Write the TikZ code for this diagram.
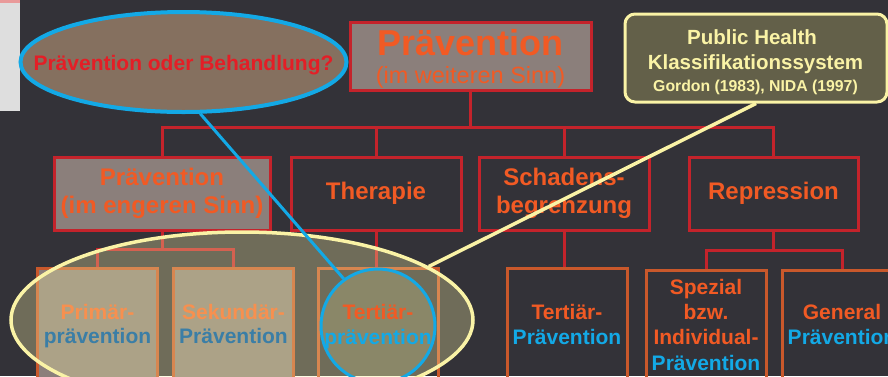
\documentclass[tikz,border=0pt]{standalone}
\usepackage{fontspec}
\setmainfont{Liberation Sans}
\usetikzlibrary{shapes.geometric}
\definecolor{bg}{HTML}{333238}
\definecolor{pred}{HTML}{C4232B}
\definecolor{porange}{HTML}{F15A24}
\definecolor{pcyan}{HTML}{13A9E6}
\definecolor{pyellow}{HTML}{FAF3A6}
\definecolor{boxgray}{HTML}{8B7F7B}
\definecolor{bordor}{HTML}{C9582B}
\definecolor{ptan}{HTML}{85705F}
\definecolor{polive}{HTML}{636049}
\definecolor{redtxt}{HTML}{E41E26}
\definecolor{lorange}{HTML}{F7904F}
\definecolor{lblue}{HTML}{3B7EA6}
\definecolor{panel}{HTML}{DEDEDE}
\definecolor{panelline}{HTML}{E99A9A}
\tikzset{
  lvtwo/.style={draw=pred, line width=3pt, minimum width=170pt, minimum height=73pt,
    inner sep=0pt, font=\fontsize{24}{28.5}\selectfont\bfseries, text=porange, align=center},
  lvthree/.style={draw=bordor, line width=3pt, minimum width=120pt, minimum height=132pt, inner sep=0pt},
  lt/.style={font=\fontsize{21}{21}\selectfont\bfseries, anchor=base, inner sep=0pt},
  conn/.style={draw=pred, line width=3pt},
}
\begin{document}
\begin{tikzpicture}[x=1pt,y=-1pt]
\useasboundingbox (0,0) rectangle (888,376);
\clip (0,0) rectangle (888,376);
\fill[bg] (0,0) rectangle (888,376);
% left panel
\fill[panel] (0,0) rectangle (20,111);
\fill[panelline] (0,0) rectangle (20,2.5);

% top box
\node[draw=pred, line width=3pt, fill=boxgray, minimum width=241pt, minimum height=68pt, inner sep=0pt] (top) at (470.5,56) {};
\node[font=\fontsize{36}{36}\selectfont\bfseries, text=porange, anchor=base, inner sep=0pt] (toptitle) at (470.5,55) {Prävention};
\node[font=\fontsize{23.5}{23.5}\selectfont, text=porange, anchor=base, inner sep=0pt] (topsub) at (470.5,83) {(im weiteren Sinn)};

% level 2
\node[lvtwo, fill=boxgray, minimum width=216pt] (A) at (162,193.5) {Prävention\\(im engeren Sinn)};
\node[lvtwo] (B) at (376,193.5) {Therapie};
\node[lvtwo] (C) at (564,193.5) {Schadens-\\begrenzung};
\node[lvtwo, minimum width=169pt] (D) at (773.5,193.5) {Repression};

% level 3 boxes
\node[lvthree, fill=boxgray] (P1) at (97.5,334) {};
\node[lvthree, fill=boxgray] (P2) at (233.5,334) {};
\node[lvthree] (T1) at (378,334) {};
\node[lvthree] (T2) at (567,334) {};
\node[lvthree] (SP) at (706,336) {};
\node[lvthree] (GP) at (842,336) {};

% connectors
\coordinate (bus) at (470.5,127);
\draw[conn] (top.south) -- (bus);
\draw[conn] (A.north) |- (bus) -| (D.north);
\draw[conn] (B.north) -- (B.north |- bus);
\draw[conn] (C.north) -- (C.north |- bus);
\coordinate (brA) at (162,249);
\draw[conn] (A.south) -- (brA);
\draw[conn] (P1.north) |- (brA) -| (P2.north);
\draw[conn] (B.south) -- (B.south |- T1.north);
\draw[conn] (C.south) -- (C.south |- T2.north);
\coordinate (brD) at (773.5,250);
\draw[conn] (D.south) -- (brD);
\draw[conn] (SP.north) |- (brD) -| (GP.north);

% texts of right level-3 boxes
\node[lt, text=porange] (t2a) at (567,319) {Tertiär-};
\node[lt, text=pcyan] (t2b) at (567,344) {Prävention};
\node[lt, text=porange] (spa) at (706,294) {Spezial};
\node[lt, text=porange] (spb) at (706,319) {bzw.};
\node[lt, text=porange] (spc) at (706,344) {Individual-};
\node[lt, text=pcyan] (spd) at (706,370) {Prävention};
\node[lt, text=porange] (gpa) at (842,319) {General};
\node[lt, text=pcyan] (gpb) at (842,344) {Prävention};

% big yellow ellipse overlay
\node[ellipse, draw=pyellow, line width=3.5pt, fill=pyellow, fill opacity=0.3, draw opacity=1,
  minimum width=462pt, minimum height=176pt, inner sep=0pt] (bigell) at (242,320) {};

% circle
\node[circle, draw=pcyan, line width=3pt, fill=pyellow, fill opacity=0.2, draw opacity=1,
  minimum size=114pt, inner sep=0pt] (circ) at (378,326) {};

% texts under overlay
\node[lt, text=lorange] (p1a) at (97.5,319) {Primär-};
\node[lt, text=lblue] (p1b) at (97.5,343) {prävention};
\node[lt, text=lorange] (p2a) at (233.5,319) {Sekundär-};
\node[lt, text=lblue] (p2b) at (233.5,343) {Prävention};
\node[lt, text=porange] (t1a) at (378,319) {Tertiär-};
\node[lt, text=pcyan] (t1b) at (378,344) {prävention};

% question ellipse
\node[ellipse, draw=pcyan, line width=4pt, fill=ptan, minimum width=326pt, minimum height=100pt, inner sep=0pt] (ell1) at (183.5,62) {};
\node[font=\fontsize{21}{21}\selectfont\bfseries, text=redtxt, anchor=base, inner sep=0pt] (ell1txt) at (183.5,70) {Prävention oder Behandlung?};

% public health box
\node[draw=pyellow, line width=3pt, rounded corners=10pt, fill=polive, minimum width=262pt, minimum height=88pt, inner sep=0pt] (ph) at (756,58) {};
\node[font=\fontsize{20.5}{20.5}\selectfont\bfseries, text=pyellow, anchor=base, inner sep=0pt] (ph1) at (752,44) {Public Health};
\node[font=\fontsize{20.5}{20.5}\selectfont\bfseries, text=pyellow, anchor=base, inner sep=0pt] (ph2) at (755.5,69) {Klassifikationssystem};
\node[font=\fontsize{15.8}{15.8}\selectfont\bfseries, text=pyellow, anchor=base, inner sep=0pt] (ph3) at (755.5,91) {Gordon (1983), NIDA (1997)};

% pointer lines
\draw[pcyan, line width=3pt] (ell1.-72) -- (circ.126);
\draw[pyellow, line width=3.5pt] (ph.south) -- (bigell.16);
\end{tikzpicture}
\end{document}
